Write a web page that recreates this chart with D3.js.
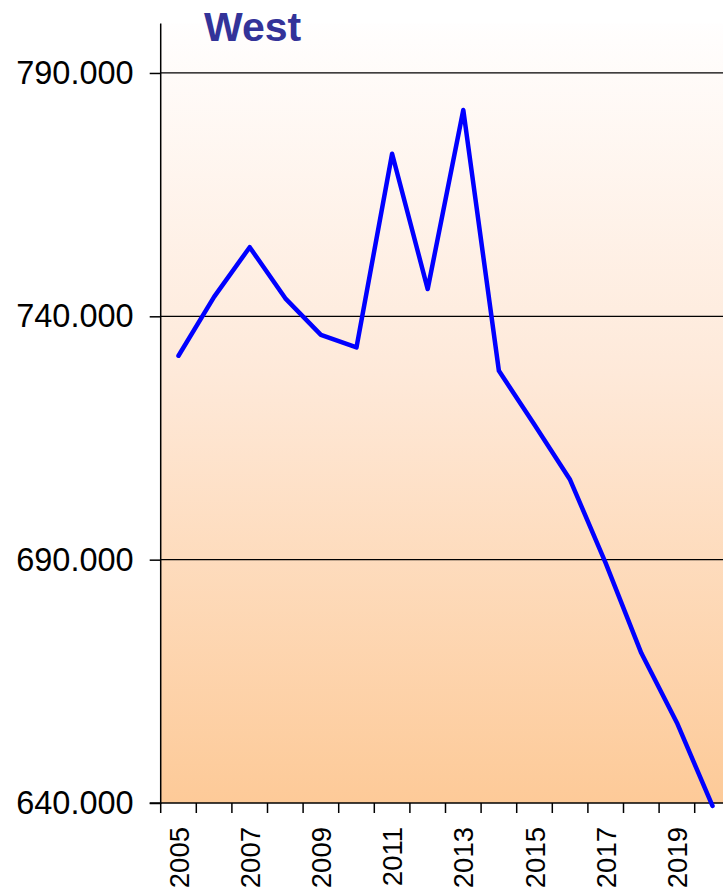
<!DOCTYPE html>
<html lang="en"><head><meta charset="utf-8">
<script src="https://cdn.jsdelivr.net/npm/d3@7"></script>
<style>
  body { margin: 0; background: #fff; }
  svg { display: block; font-family: Arial, "Liberation Sans", sans-serif; }
</style>
</head>
<body>
<script>
// West - yearly values
var years = [2005, 2006, 2007, 2008, 2009, 2010, 2011, 2012, 2013, 2014, 2015, 2016, 2017, 2018, 2019, 2020];
var values = [731.9, 744.0, 754.2, 743.7, 736.2, 733.6, 773.4, 745.6, 782.4, 728.8, 717.7, 706.4, 689.3, 670.8, 656.5, 639.4];
var yTicks = [640, 690, 740, 790];
var xLabels = [2005, 2007, 2009, 2011, 2013, 2015, 2017, 2019];

var width = 723, height = 888;
var plotLeft = 160.7, plotRight = 730.3, plotTop = 23.5, plotBottom = 803;

var svg = d3.select("body").append("svg")
    .attr("width", width).attr("height", height);

var x = d3.scaleBand().domain(years).range([plotLeft, plotRight]).padding(0);
var y = d3.scaleLinear().domain([640, 800]).range([plotBottom, plotTop + 0.8]);

var grad = svg.append("defs").append("linearGradient")
    .attr("id", "bg").attr("x1", 0).attr("y1", 0).attr("x2", 0).attr("y2", 1);
grad.append("stop").attr("offset", "0%").attr("stop-color", "#fffefe");
grad.append("stop").attr("offset", "45%").attr("stop-color", "#fee9d9");
grad.append("stop").attr("offset", "100%").attr("stop-color", "#fdca98");

svg.append("rect")
    .attr("x", plotLeft).attr("y", plotTop)
    .attr("width", plotRight - plotLeft).attr("height", plotBottom - plotTop)
    .attr("fill", "url(#bg)");

// gridlines
svg.selectAll("line.grid").data(yTicks.filter(d => d > 640)).enter()
    .append("line").attr("class", "grid")
    .attr("x1", plotLeft).attr("x2", width)
    .attr("y1", d => y(d)).attr("y2", d => y(d))
    .attr("stroke", "#000").attr("stroke-width", 1.2);

// y axis
var yAxis = d3.axisLeft(y).tickValues(yTicks)
    .tickFormat(d3.format(".3f")).tickSize(11).tickPadding(16);
var gy = svg.append("g").attr("transform", "translate(" + plotLeft + ",0)").call(yAxis);
gy.select(".domain").remove();
gy.selectAll(".tick line").attr("stroke", "#000").attr("stroke-width", 1.5);
gy.selectAll(".tick text").attr("font-size", "32.5px").attr("fill", "#000")
    .attr("font-family", "Arial, 'Liberation Sans', sans-serif");
svg.append("line").attr("x1", plotLeft).attr("x2", plotLeft)
    .attr("y1", plotTop).attr("y2", plotBottom + 1)
    .attr("stroke", "#000").attr("stroke-width", 1.5);

// x axis
svg.append("line").attr("x1", plotLeft - 11).attr("x2", width)
    .attr("y1", plotBottom).attr("y2", plotBottom)
    .attr("stroke", "#000").attr("stroke-width", 1.5);
svg.selectAll("line.xtick").data(years).enter()
    .append("line").attr("class", "xtick")
    .attr("x1", d => x(d)).attr("x2", d => x(d))
    .attr("y1", plotBottom).attr("y2", plotBottom + 10)
    .attr("stroke", "#000").attr("stroke-width", 1.5);
svg.selectAll("text.xlab").data(xLabels).enter()
    .append("text").attr("class", "xlab")
    .attr("transform", d => "translate(" + (x(d) + x.bandwidth() / 2 + 10) + "," + 827 + ") rotate(-90)")
    .attr("text-anchor", "end")
    .attr("font-size", "27.5px").attr("fill", "#000")
    .text(d => d);

// line
var line = d3.line()
    .x((d, i) => x(years[i]) + x.bandwidth() / 2)
    .y(d => y(d));
svg.append("path").datum(values)
    .attr("d", line)
    .attr("fill", "none")
    .attr("stroke", "#0000ff")
    .attr("stroke-width", 4.5)
    .attr("stroke-linejoin", "round")
    .attr("stroke-linecap", "round");

// title
svg.append("text")
    .attr("x", 204).attr("y", 41)
    .attr("font-size", "41px").attr("font-weight", "bold")
    .attr("fill", "#333399")
    .text("West");
</script>
</body></html>
